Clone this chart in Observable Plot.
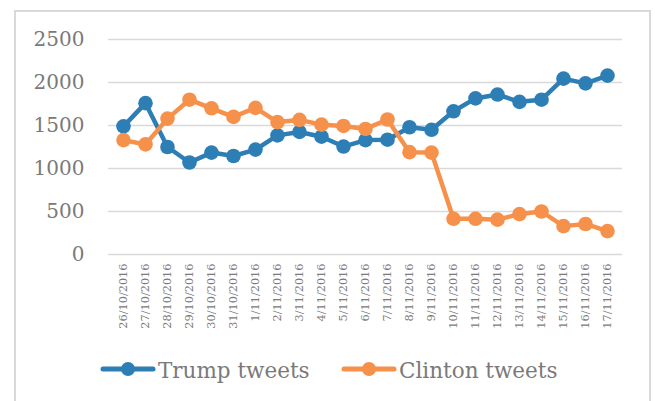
<!DOCTYPE html>
<html>
<head>
<meta charset="utf-8">
<script src="https://cdn.jsdelivr.net/npm/d3@7"></script>
<script src="https://cdn.jsdelivr.net/npm/@observablehq/plot@0.6"></script>
<style>
  html, body { margin: 0; padding: 0; background: #fff; }
  #wrap { position: relative; width: 655px; height: 401px; overflow: hidden; font-family: "DejaVu Serif", serif; }
  #chart { position: absolute; left: 0; top: 0; }
  #frame { position: absolute; left: 14px; top: 10px; width: 633px; height: 420px; border: 2px solid #d9d9d9; pointer-events: none; }
  #legend { position: absolute; left: 0; top: 352px; }
</style>
</head>
<body>
<div id="wrap">
  <div id="frame"></div>
  <div id="chart"></div>
  <div id="legend"></div>
</div>
<script>
// Daily tweet counts, 26 Oct – 17 Nov 2016
const dates = [
  "26/10/2016", "27/10/2016", "28/10/2016", "29/10/2016", "30/10/2016", "31/10/2016",
  "1/11/2016", "2/11/2016", "3/11/2016", "4/11/2016", "5/11/2016", "6/11/2016",
  "7/11/2016", "8/11/2016", "9/11/2016", "10/11/2016", "11/11/2016", "12/11/2016",
  "13/11/2016", "14/11/2016", "15/11/2016", "16/11/2016", "17/11/2016"
];
const trumpTweets = [
  1490, 1760, 1250, 1070, 1185, 1145, 1220, 1385, 1425, 1370, 1255, 1330,
  1335, 1480, 1450, 1665, 1815, 1860, 1775, 1800, 2045, 1990, 2080
];
const clintonTweets = [
  1330, 1280, 1580, 1800, 1700, 1600, 1705, 1540, 1565, 1510, 1495, 1460,
  1570, 1190, 1185, 415, 415, 405, 470, 500, 330, 355, 272
];
const seriesNames = ["Trump tweets", "Clinton tweets"];
const seriesColors = ["#2E7EB6", "#F6914B"];
const yTicks = [0, 500, 1000, 1500, 2000, 2500];

const seriesValues = [trumpTweets, clintonTweets];
const rows = seriesNames.flatMap((name, s) =>
  dates.map((date, i) => ({date, value: seriesValues[s][i], series: name}))
);

// Each series drawn as its line then its markers, later series on top
const lineMarks = seriesNames.flatMap(name => {
  const part = rows.filter(d => d.series === name);
  return [
    Plot.line(part, {x: "date", y: "value", stroke: "series", strokeWidth: 4.5,
                     strokeLinejoin: "round", strokeLinecap: "round"}),
    Plot.dot(part, {x: "date", y: "value", fill: "series", r: 7.3})
  ];
});

const chart = Plot.plot({
  width: 655,
  height: 340,
  marginLeft: 108,
  marginRight: 33,
  marginTop: 39,
  marginBottom: 86,
  style: {fontFamily: "DejaVu Serif, serif", color: "#7a7a7a", background: "transparent"},
  x: {type: "point", domain: dates, padding: 0.5, label: null},
  y: {domain: [0, 2500], label: null},
  color: {domain: seriesNames, range: seriesColors},
  marks: [
    Plot.ruleY(yTicks, {stroke: "#d9d9d9", strokeWidth: 1.5}),
    Plot.axisY({ticks: yTicks, tickFormat: d3.format("d"), tickSize: 0, tickPadding: 24,
                fontSize: 20, label: null}),
    Plot.axisX({tickSize: 0, tickRotate: -90, tickPadding: 9, fontSize: 11.3, label: null}),
    ...lineMarks
  ]
});
document.getElementById("chart").appendChild(chart);

// Legend: line-with-marker swatch followed by the series name
const ns = "http://www.w3.org/2000/svg";
const leg = document.createElementNS(ns, "svg");
leg.setAttribute("width", 655);
leg.setAttribute("height", 40);
const swatchX = [101, 342];
seriesNames.forEach((name, s) => {
  const x0 = swatchX[s];
  const line = document.createElementNS(ns, "line");
  line.setAttribute("x1", x0 + 2); line.setAttribute("x2", x0 + 52);
  line.setAttribute("y1", 17); line.setAttribute("y2", 17);
  line.setAttribute("stroke", seriesColors[s]);
  line.setAttribute("stroke-width", 5);
  line.setAttribute("stroke-linecap", "round");
  leg.appendChild(line);
  const dot = document.createElementNS(ns, "circle");
  dot.setAttribute("cx", x0 + 27); dot.setAttribute("cy", 17); dot.setAttribute("r", 7);
  dot.setAttribute("fill", seriesColors[s]);
  leg.appendChild(dot);
  const t = document.createElementNS(ns, "text");
  t.setAttribute("x", x0 + 57); t.setAttribute("y", 25.5);
  t.setAttribute("fill", "#7a7a7a");
  t.setAttribute("font-size", 21.5);
  t.setAttribute("font-family", "DejaVu Serif, serif");
  t.textContent = name;
  leg.appendChild(t);
});
document.getElementById("legend").appendChild(leg);
</script>
</body>
</html>
